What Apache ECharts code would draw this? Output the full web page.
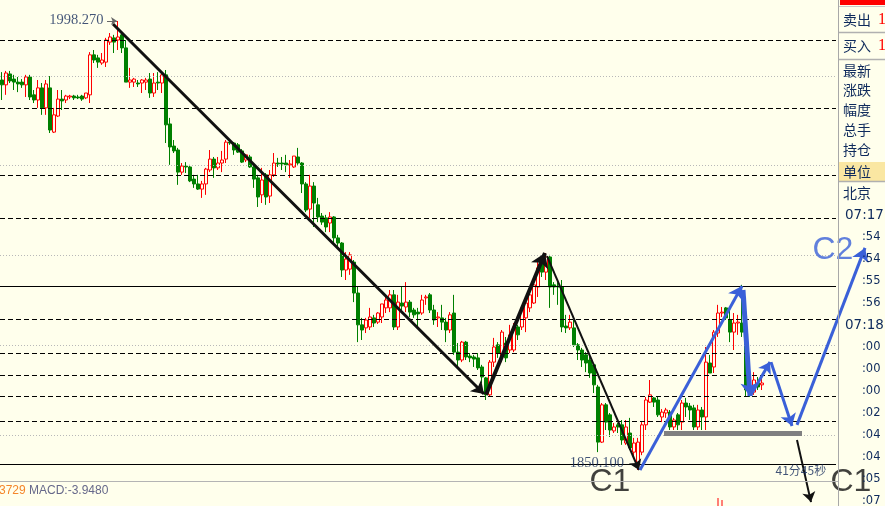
<!DOCTYPE html>
<html><head><meta charset="utf-8">
<script src="https://cdn.jsdelivr.net/npm/echarts@6/dist/echarts.min.js"></script>
<style>html,body{margin:0;padding:0;background:#FFFFEC;}#c{width:885px;height:506px;}</style>
</head><body><div id="c"></div>
<script>
// [open, close, low, high]
const candles = [
[1978.8,1977.2,1972.2,1981.4],[1977.2,1981.1,1973.9,1981.8],[1980.8,1978.5,1977.8,1981.8],[1979.1,1978.1,1975.5,1980.5],
[1978.1,1977.5,1974.8,1979.8],[1978.1,1977.2,1976.2,1979.1],[1977.2,1979.8,1973.2,1980.5],[1979.8,1973.2,1972.2,1980.5],
[1973.9,1972.2,1971.2,1975.5],[1972.2,1976.2,1969.6,1978.8],[1976.2,1969.6,1967.3,1977.8],[1969.6,1977.5,1967.3,1978.8],
[1976.2,1962.3,1961.3,1980.1],[1961.6,1967.3,1961.3,1969.6],[1966.9,1972.5,1966.6,1975.5],[1972.5,1971.9,1968.9,1975.5],
[1972.2,1973.5,1971.2,1973.9],[1973.2,1973.5,1972.5,1973.9],[1973.5,1972.9,1972.2,1973.9],[1973.2,1972.9,1972.5,1973.9],
[1973.5,1972.5,1971.9,1973.9],[1972.9,1974.5,1972.5,1974.5],[1973.9,1987.1,1971.2,1988.0],[1987.1,1985.4,1984.4,1988.7],
[1986.1,1984.7,1982.8,1987.1],[1984.4,1985.4,1983.8,1987.7],[1984.7,1992.0,1983.1,1992.7],[1991.3,1993.0,1990.4,1994.3],
[1992.7,1991.3,1987.7,1993.7],[1992.0,1993.0,1988.7,1998.27],[1993.7,1989.4,1987.7,1994.6],[1989.4,1978.1,1978.1,1992.0],
[1978.1,1978.8,1976.2,1982.8],[1978.1,1979.1,1976.5,1979.5],[1977.8,1977.5,1976.5,1978.8],[1977.8,1978.8,1974.5,1979.1],
[1978.1,1978.8,1975.5,1979.5],[1979.1,1974.5,1972.9,1981.1],[1974.5,1977.8,1973.2,1981.1],[1978.1,1977.8,1975.5,1981.4],
[1977.8,1980.5,1974.5,1981.1],[1980.5,1964.0,1958.0,1982.1],[1964.3,1956.7,1950.8,1966.3],[1957.0,1955.4,1954.7,1959.0],
[1955.7,1948.4,1944.2,1956.4],[1948.4,1950.4,1947.5,1951.4],[1950.4,1950.1,1948.1,1951.7],[1950.1,1945.5,1945.1,1950.8],
[1946.1,1944.5,1943.2,1947.5],[1944.5,1942.8,1942.5,1947.5],[1942.8,1944.5,1939.9,1945.5],[1944.5,1949.4,1940.9,1949.8],
[1949.1,1952.7,1948.4,1955.7],[1952.7,1949.8,1946.5,1953.4],[1949.8,1951.4,1949.1,1953.4],[1951.4,1952.4,1948.4,1955.4],
[1952.7,1958.3,1951.4,1959.0],[1958.3,1958.0,1957.4,1959.0],[1958.0,1955.7,1954.1,1958.3],[1957.4,1955.0,1954.7,1958.0],
[1955.4,1951.7,1951.4,1956.0],[1952.4,1954.1,1951.7,1954.1],[1953.4,1950.1,1949.8,1954.1],[1950.1,1946.1,1943.2,1950.8],
[1946.5,1940.2,1936.9,1947.5],[1940.9,1945.8,1938.2,1949.8],[1947.5,1940.2,1937.6,1948.1],[1940.5,1947.5,1938.2,1949.1],
[1947.5,1951.4,1946.8,1954.7],[1951.4,1951.1,1950.1,1953.1],[1951.4,1951.1,1949.1,1953.4],[1951.4,1950.8,1948.4,1954.1],
[1950.8,1951.1,1946.5,1952.4],[1950.1,1953.7,1949.8,1953.7],[1953.4,1951.4,1950.8,1956.4],[1951.4,1944.5,1941.5,1951.7],
[1944.5,1935.9,1935.2,1945.1],[1936.2,1943.8,1933.3,1947.5],[1943.8,1938.2,1930.3,1945.1],[1937.6,1933.6,1931.9,1939.9],
[1933.9,1931.9,1931.0,1934.9],[1933.3,1930.3,1928.6,1934.3],[1931.6,1933.6,1928.6,1935.2],[1933.6,1926.7,1925.0,1933.9],
[1926.7,1925.0,1924.0,1927.7],[1925.0,1916.1,1913.8,1925.3],[1916.1,1919.7,1912.8,1922.0],[1916.4,1921.1,1914.5,1922.0],
[1918.7,1908.5,1905.5,1919.4],[1908.5,1898.0,1892.3,1910.5],[1898.0,1896.3,1893.0,1900.3],[1897.0,1899.6,1895.3,1900.3],
[1897.3,1900.6,1896.3,1903.6],[1900.3,1898.6,1897.3,1901.3],[1898.9,1901.9,1898.3,1902.2],[1900.6,1904.9,1898.6,1904.9],
[1903.6,1906.2,1901.9,1907.9],[1903.6,1907.9,1902.2,1909.5],[1907.9,1897.3,1896.3,1909.5],[1897.3,1905.5,1896.3,1907.9],
[1905.2,1904.2,1902.9,1910.5],[1903.9,1905.5,1902.2,1912.1],[1905.5,1902.2,1900.6,1906.2],[1902.9,1901.3,1900.3,1903.6],
[1902.2,1901.6,1897.0,1903.6],[1901.9,1906.2,1901.3,1907.9],[1906.9,1907.2,1904.6,1907.9],[1907.9,1902.9,1901.9,1908.5],
[1902.9,1899.6,1898.0,1904.6],[1900.3,1900.6,1897.3,1902.2],[1900.3,1898.9,1896.3,1904.6],[1898.9,1896.3,1892.3,1900.3],
[1896.3,1901.3,1895.3,1902.2],[1901.9,1889.0,1888.1,1907.9],[1889.0,1886.4,1884.1,1892.0],[1886.4,1892.3,1885.7,1892.7],
[1892.3,1887.4,1886.4,1892.7],[1887.7,1887.1,1885.7,1888.7],[1887.4,1886.7,1884.1,1888.1],[1887.1,1883.8,1883.1,1888.7],
[1884.1,1880.8,1878.8,1884.8],[1880.5,1874.9,1873.2,1880.8],[1874.9,1885.7,1874.2,1886.4],[1885.7,1890.7,1884.1,1893.7],
[1891.4,1888.7,1887.1,1892.3],[1887.4,1895.6,1885.7,1896.3],[1892.0,1887.1,1885.7,1894.0],[1889.7,1894.7,1888.7,1898.0],
[1889.7,1897.3,1889.0,1898.6],[1897.3,1894.7,1893.0,1898.0],[1897.3,1903.6,1896.3,1903.9],[1900.3,1905.2,1895.6,1906.2],
[1903.6,1907.9,1902.2,1908.5],[1905.2,1911.2,1904.9,1912.8],[1910.5,1916.8,1907.2,1918.7],[1919.4,1915.4,1913.8,1920.4],
[1915.4,1920.4,1912.8,1921.7],[1920.4,1910.5,1903.6,1921.1],[1911.2,1910.5,1907.9,1912.1],[1910.8,1910.5,1904.6,1912.1],
[1910.5,1897.3,1895.6,1912.8],[1897.6,1897.0,1895.3,1901.3],[1897.0,1898.9,1896.3,1901.3],[1897.0,1891.4,1890.7,1899.6],
[1891.4,1889.7,1886.4,1892.0],[1889.7,1886.4,1884.1,1890.4],[1888.1,1885.4,1882.4,1889.0],[1886.4,1882.1,1880.5,1888.1],
[1884.8,1878.2,1875.5,1885.4],[1877.5,1859.3,1856.0,1878.2],[1859.3,1871.6,1859.0,1872.2],[1871.6,1865.9,1863.3,1872.2],
[1868.3,1863.3,1861.0,1868.9],[1863.0,1864.3,1862.3,1865.6],[1865.0,1864.3,1862.3,1865.6],[1865.0,1860.0,1858.4,1866.6],
[1859.0,1864.3,1858.4,1866.6],[1862.3,1857.4,1856.7,1867.3],[1856.0,1859.0,1854.1,1860.7],[1852.7,1859.3,1850.1,1860.7],
[1856.0,1865.0,1855.0,1865.9],[1865.0,1873.2,1863.3,1874.2],[1872.5,1874.9,1872.2,1879.8],[1873.9,1872.5,1870.9,1874.2],
[1873.2,1868.3,1867.6,1874.2],[1867.6,1869.2,1865.9,1870.2],[1868.9,1869.9,1867.3,1870.6],[1869.2,1864.3,1863.3,1869.9],
[1864.3,1866.6,1863.3,1867.3],[1868.3,1865.0,1863.3,1868.9],[1865.9,1872.2,1863.3,1873.2],[1872.2,1870.9,1867.6,1873.9],
[1871.2,1869.9,1866.6,1872.2],[1870.6,1864.3,1863.3,1871.6],[1864.3,1869.9,1863.3,1871.6],[1869.9,1867.6,1863.3,1870.9],
[1867.6,1885.7,1863.3,1890.7],[1885.4,1882.1,1882.1,1888.1],[1884.1,1895.6,1882.1,1896.3],[1895.3,1901.9,1894.0,1904.6],
[1901.9,1902.2,1900.6,1903.9],[1903.6,1900.3,1899.6,1903.9],[1899.6,1895.6,1892.3,1903.6],[1895.6,1898.6,1889.7,1901.9],
[1898.6,1898.9,1894.7,1901.3],[1898.6,1895.6,1894.0,1911.2],[1896.3,1876.5,1874.2,1896.3],[1877.2,1874.9,1874.2,1878.2],
[1875.8,1879.8,1874.9,1882.4],[1878.8,1877.5,1876.5,1880.8],[1878.2,1878.8,1876.5,1880.5]
];
const slotCount = 209;
const categories = [];
for (let i = 0; i < slotCount; i++) categories.push('K' + i);

const dashedLevels = [1992.0, 1969.6, 1947.5, 1933.3, 1899.9, 1888.7, 1881.5, 1874.5, 1866.3];
const dottedLevels = [1980.1, 1950.8, 1921.1, 1891.4, 1861.6];
const solidLevels = [1910.8, 1852.1];

// drawn annotations: [slot, price]
const highPointer = [[26.25, 1998.3], [28.75, 1998.3]];
const trendDown1 = [[27.75, 1997.3], [120.5, 1875.2]];
const trendUp1 = [[121, 1874.9], [135.75, 1921.7]];
const trendDown2 = [[136.25, 1920.7], [159.25, 1850.1]];
const waveUp1 = [[159.5, 1850.1], [185, 1910.8]];
const waveDown1 = [[185.25, 1909.5], [187, 1874.5]];
const waveUp2 = [[187.25, 1874.9], [192, 1885.7]];
const waveDown2 = [[192.25, 1885.7], [197.5, 1864.6]];
const waveUpC2 = [[198.75, 1865.0], [215.75, 1923.4]];
const dropC1 = [[198.75, 1860.0], [202.25, 1839.5]];
const supportBar = [[165.5, 1862.1], [200, 1862.1]];

const textLabels = [
  {pos: [25.5, 1998.6], text: '1998.270', kind: 'price', side: 'left'},
  {pos: [141.8, 1852.4], text: '1850.100', kind: 'price', side: 'right'},
  {pos: [146.75, 1846.0], text: 'C1', kind: 'bigBlack', side: 'right'},
  {pos: [193.25, 1849.8], text: '41分45秒', kind: 'small', side: 'right'},
  {pos: [207, 1846.0], text: 'C1', kind: 'bigBlack', side: 'right'},
  {pos: [202.5, 1922.5], text: 'C2', kind: 'bigBlue', side: 'right'}
];

const macdSlots = [179, 180];
const macdValues = [3.3, 2.5];

const panelLabels = ['卖出', '买入', '最新', '涨跌', '幅度', '总手', '持仓', '单位', '北京'];
const panelLabelY = [20, 46, 71, 90, 110, 130, 150, 172, 193];
const timeLabels = ['07:17', ':54', ':54', ':55', ':56', '07:18', ':00', ':00', ':00', ':02', ':04', ':04', ':05', ':07'];

const BG = '#FFFFEC';
const NAVY = '#0E2A5C';
const BLUE = '#3A60D8';

const labelStyles = {
  price: {fontFamily: 'Liberation Serif', fontSize: 14.5, color: '#13295A'},
  small: {fontFamily: 'Noto Sans CJK SC', fontSize: 12, color: '#13295A'},
  bigBlack: {fontFamily: 'Liberation Sans', fontSize: 32, color: '#111111'},
  bigBlue: {fontFamily: 'Liberation Sans', fontSize: 32, color: BLUE}
};

const macdData = categories.map(() => null);
macdSlots.forEach((s, k) => { macdData[s] = macdValues[k]; });

function arrowSeries(coords, color, width, size, noArrow) {
  return {
    type: 'lines', coordinateSystem: 'cartesian2d', xAxisIndex: 1, yAxisIndex: 0,
    clip: false, silent: true, animation: false, z: 6,
    symbol: noArrow ? ['none', 'none'] : ['none', 'arrow'], symbolSize: size,
    lineStyle: {color: color, width: width, opacity: 1, curveness: 0},
    data: [{coords: coords}]
  };
}

const levelLines = []
  .concat(dashedLevels.map(v => ({yAxis: v, lineStyle: {type: [5, 3], color: '#000', width: 1}})))
  .concat(dottedLevels.map(v => ({yAxis: v, lineStyle: {type: [1, 2], color: '#B8B8B8', width: 1}})))
  .concat(solidLevels.map(v => ({yAxis: v, lineStyle: {type: 'solid', color: '#000', width: 1}})));

const graphics = [];
// right panel
graphics.push({type: 'line', shape: {x1: 838.5, y1: 0, x2: 838.5, y2: 506}, style: {stroke: '#A8A8A8', lineWidth: 1}, z: 10});
graphics.push({type: 'rect', shape: {x: 840, y: 0, width: 45, height: 5}, style: {fill: '#FF0000'}, z: 10});
graphics.push({type: 'line', shape: {x1: 839, y1: 6.5, x2: 885, y2: 6.5}, style: {stroke: '#C8C8C8', lineWidth: 1}, z: 10});
[32.5, 59.5, 181.5].forEach(y => graphics.push({type: 'line', shape: {x1: 839, y1: y, x2: 885, y2: y}, style: {stroke: '#B0B0B0', lineWidth: 1.5}, z: 10}));
graphics.push({type: 'rect', shape: {x: 839, y: 162, width: 46, height: 19}, style: {fill: '#FAE7A2'}, z: 9});
panelLabels.forEach((t, k) => graphics.push({type: 'text', z: 11, style: {text: t, x: 843, y: panelLabelY[k], fill: NAVY, font: '14px "Noto Sans CJK SC"', verticalAlign: 'middle', textVerticalAlign: 'middle'}}));
[20, 46].forEach(y => graphics.push({type: 'text', z: 11, style: {text: '1', x: 878, y: y, fill: '#FF0000', font: '16px "Liberation Serif"', verticalAlign: 'middle', textVerticalAlign: 'middle'}}));
timeLabels.forEach((t, k) => {
  const big = t.length > 3;
  graphics.push({type: 'text', z: 11, style: {text: t, x: big ? 845 : 862, y: 215 + 22 * k, fill: NAVY,
    font: big ? '13.5px "DejaVu Sans"' : '11.5px "DejaVu Sans"', verticalAlign: 'middle', textVerticalAlign: 'middle'}});
});
// MACD pane
graphics.push({type: 'line', shape: {x1: 0, y1: 481.5, x2: 838, y2: 481.5}, style: {stroke: '#B4B4B4', lineWidth: 1}, z: 10});
graphics.push({type: 'text', z: 11, style: {text: '3729', x: -1, y: 491, fill: '#F5862A', font: '12px "Liberation Sans"', verticalAlign: 'middle', textVerticalAlign: 'middle'}});
graphics.push({type: 'text', z: 11, style: {text: 'MACD:-3.9480', x: 29, y: 491, fill: '#66688A', font: '12px "Liberation Sans"', verticalAlign: 'middle', textVerticalAlign: 'middle'}});

const chart = echarts.init(document.getElementById('c'), null, {renderer: 'canvas'});
chart.setOption({
  backgroundColor: BG,
  animation: false,
  grid: [
    {left: 0, top: 0, width: 836, height: 481},
    {left: 0, top: 482, width: 836, height: 24}
  ],
  xAxis: [
    {type: 'category', gridIndex: 0, data: categories, show: false, boundaryGap: true},
    {type: 'value', gridIndex: 0, min: -0.5, max: slotCount - 0.5, show: false},
    {type: 'category', gridIndex: 1, data: categories, show: false, boundaryGap: true}
  ],
  yAxis: [
    {type: 'value', gridIndex: 0, min: 1846.47, max: 2005.2, show: false, splitLine: {show: false}},
    {type: 'value', gridIndex: 1, min: 0, max: 10, show: false, splitLine: {show: false}}
  ],
  series: [
    {
      type: 'candlestick', xAxisIndex: 0, yAxisIndex: 0, data: candles, barWidth: 3,
      itemStyle: {color: BG, color0: '#008000', borderColor: '#FF0000', borderColor0: '#008000', borderWidth: 1},
      markLine: {silent: true, symbol: 'none', label: {show: false}, animation: false, data: levelLines}
    },
    arrowSeries(highPointer, '#666666', 1, 6),
    arrowSeries(trendDown1, '#111111', 3, 12),
    arrowSeries(trendUp1, '#111111', 4, 14),
    arrowSeries(trendDown2, '#111111', 2, 10),
    arrowSeries(supportBar, '#808080', 5, 0, true),
    arrowSeries(waveUp1, BLUE, 3, 13),
    arrowSeries(waveDown1, BLUE, 5, 13),
    arrowSeries(waveUp2, BLUE, 3, 11),
    arrowSeries(waveDown2, BLUE, 3, 12),
    arrowSeries(waveUpC2, BLUE, 3, 13),
    arrowSeries(dropC1, '#111111', 2, 10),
    {
      type: 'scatter', xAxisIndex: 1, yAxisIndex: 0, clip: false, silent: true, z: 8,
      symbolSize: 1, itemStyle: {color: 'rgba(0,0,0,0)'},
      data: textLabels.map(t => ({
        value: t.pos,
        label: Object.assign({show: true, position: t.side, distance: 0, formatter: t.text}, labelStyles[t.kind])
      }))
    },
    {type: 'bar', xAxisIndex: 2, yAxisIndex: 1, data: macdData, barWidth: 1, itemStyle: {color: '#FF0000'}, silent: true}
  ],
  graphic: graphics
});
</script></body></html>
